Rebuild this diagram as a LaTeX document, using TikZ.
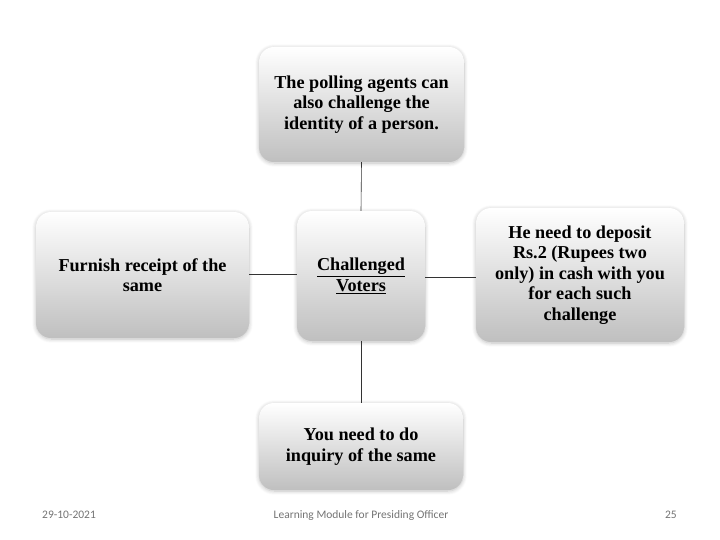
\documentclass[tikz,border=0pt]{standalone}
\usepackage{fontspec}
\setmainfont{Liberation Serif}
\newfontfamily\footfont{Carlito}
\usetikzlibrary{shadows.blur}
\begin{document}
\begin{tikzpicture}[x=1pt,y=-1pt,
  gbox/.style={rounded corners=15pt, top color=white, bottom color=black!25, draw=none,
    blur shadow={shadow blur steps=8, shadow xshift=0pt, shadow yshift=-1pt, shadow opacity=25, shadow blur radius=4pt},
    align=center, font=\bfseries\fontsize{18.2}{20.6}\selectfont, inner sep=0pt},
  link/.style={draw=black!80, line width=0.6pt},
  foot/.style={font=\footfont\fontsize{11.5}{13}\selectfont, text=black!55, inner sep=0pt}]
\useasboundingbox (0,0) rectangle (720,540);
\node[gbox, minimum width=205pt, minimum height=115pt] (top) at (361.5,104.5)
  {The polling agents can\\also challenge the\\identity of a person.};
\node[gbox, minimum width=213pt, minimum height=126pt] (left) at (142.5,275)
  {Furnish receipt of the\\same};
\node[gbox, minimum width=128pt, minimum height=130pt] (center) at (361,276)
  {\underline{Challenged}\\\underline{Voters}};
\node[gbox, minimum width=208pt, minimum height=134pt] (right) at (580,275)
  {He need to deposit\\Rs.2 (Rupees two\\only) in cash with you\\for each such\\challenge};
\node[gbox, minimum width=204pt, minimum height=87pt] (bottom) at (361,446.5)
  {You need to do\\inquiry of the same};
\draw[link] (top.south) -- (center.north);
\draw[link] (center.south) -- (bottom.north);
\draw[link] (left.east |- 0,274) -- (center.west |- 0,274);
\draw[link] (center.east |- 0,277) -- (right.west |- 0,277);
\node[foot, anchor=west] (date) at (42,515) {29-10-2021};
\node[foot] (title) at (361,515) {Learning Module for Presiding Officer};
\node[foot, anchor=east] (page) at (677,515) {25};
\end{tikzpicture}
\end{document}
